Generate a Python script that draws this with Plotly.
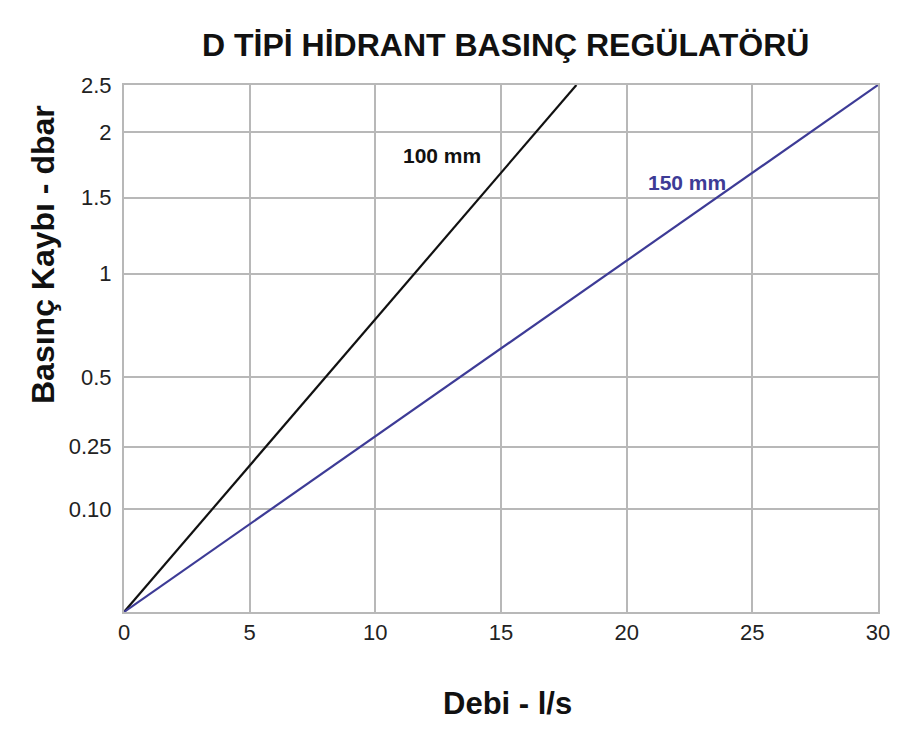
import numpy as np
import plotly.graph_objects as go

# Data
flow_100 = [0, 18]          # l/s
loss_100 = [0, 2.5]         # dbar
flow_150 = [0, 30]
loss_150 = [0, 2.5]

x_ticks = [0, 5, 10, 15, 20, 25, 30]
y_tick_values = [0, 0.10, 0.25, 0.5, 1, 1.5, 2, 2.5]
y_tick_labels = ["", "0.10", "0.25", "0.5", "1", "1.5", "2", "2.5"]
# relative position of each tick on the chart's non-uniform pressure scale
y_tick_scale = [0, 0.195, 0.314, 0.446, 0.642, 0.786, 0.911, 1.0]


def to_scale(v):
    return np.interp(v, y_tick_values, y_tick_scale)


FONT = "Liberation Sans, Arial, sans-serif"
GRID = "#b8b8b8"
BLUE = "#3d3b96"

# plot area in screen pixels (page has 8px body margin)
L, R, T, B = 124, 878, 85, 612
W, H = 894, 728
OFF = 8

fig = go.Figure()
fig.add_trace(go.Scatter(x=flow_100, y=to_scale(loss_100), mode="lines",
                         line=dict(color="#111111", width=2.2), showlegend=False))
fig.add_trace(go.Scatter(x=flow_150, y=to_scale(loss_150), mode="lines",
                         line=dict(color=BLUE, width=2.2), showlegend=False))


def px(x):
    return (x - L) / (R - L)


def py(y):
    return (B - y) / (B - T)


fig.update_layout(
    width=W, height=H,
    margin=dict(l=L - OFF, r=W - (R - OFF), t=T - OFF, b=H - (B - OFF)),
    paper_bgcolor="white", plot_bgcolor="white",
    font=dict(family=FONT, color="#222222", size=22),
    xaxis=dict(range=[0, 30], tickvals=x_ticks, showgrid=True, gridcolor=GRID,
               gridwidth=1.5, showline=True, linecolor=GRID, linewidth=2,
               mirror=True, zeroline=False, ticks="", ticklen=0,
               tickfont=dict(size=22, color="#222222")),
    yaxis=dict(range=[0, 1], tickvals=y_tick_scale, ticktext=y_tick_labels,
               showgrid=True, gridcolor=GRID, gridwidth=1.5, showline=True,
               linecolor=GRID, linewidth=2, mirror=True, zeroline=False,
               ticks="", ticklabelstandoff=6,
               tickfont=dict(size=22, color="#222222")),
    annotations=[
        dict(text="<b>D TİPİ HİDRANT BASINÇ REGÜLATÖRÜ</b>", xref="paper", yref="paper",
             x=px(505), y=py(45), xanchor="center", yanchor="middle",
             showarrow=False, font=dict(size=32, color="#111111", family=FONT)),
        dict(text="<b>Basınç Kaybı - dbar</b>", xref="paper", yref="paper",
             x=px(43), y=py(255), xanchor="center", yanchor="middle",
             textangle=-90, showarrow=False, font=dict(size=32, color="#111111", family=FONT)),
        dict(text="<b>Debi - l/s</b>", xref="paper", yref="paper",
             x=px(507), y=py(703), xanchor="center", yanchor="middle",
             showarrow=False, font=dict(size=31, color="#111111", family=FONT)),
        dict(text="<b>100 mm</b>", xref="paper", yref="paper",
             x=px(442), y=py(155), xanchor="center", yanchor="middle",
             showarrow=False, font=dict(size=21, color="#111111", family=FONT)),
        dict(text="<b>150 mm</b>", xref="paper", yref="paper",
             x=px(687), y=py(182), xanchor="center", yanchor="middle",
             showarrow=False, font=dict(size=21, color=BLUE, family=FONT)),
    ],
)

fig.write_html("out.html")
